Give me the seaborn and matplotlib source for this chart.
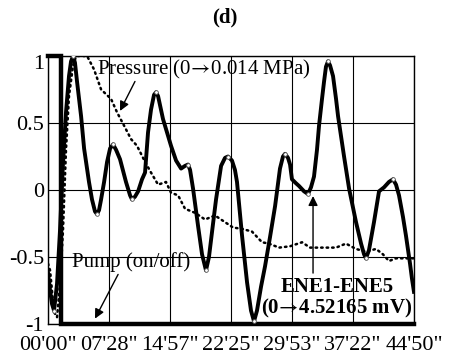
import matplotlib
matplotlib.use("Agg")
import matplotlib.pyplot as plt
import matplotlib.transforms as mtransforms
import pandas as pd
import seaborn as sns

# time in seconds, values normalised to -1..1
ene_t = [0, 15, 29, 44, 66, 88, 110, 132, 154, 169, 184, 198, 213, 243, 265, 301,
         323, 345, 360, 375, 390, 412, 434, 456, 478, 500, 529, 573, 603, 617, 639,
         662, 691, 713, 735, 757, 779, 794, 809, 845, 904, 941, 978, 1007, 1029,
         1044, 1066, 1103, 1132, 1161, 1183, 1213, 1235, 1272, 1301, 1323, 1352,
         1374, 1389, 1426, 1463, 1492, 1514, 1536, 1566, 1595, 1632, 1669, 1705,
         1727, 1742, 1764, 1779, 1793, 1823, 1845, 1882, 1911, 1933, 1955, 1977,
         1992, 2014, 2029, 2043, 2058, 2073, 2095, 2117, 2132, 2176, 2213, 2264,
         2301, 2323, 2337, 2359, 2396, 2433, 2470, 2506, 2536, 2558, 2580, 2609,
         2631, 2661, 2675, 2690]
ene_v = [-0.62, -0.75, -0.85, -0.9, -0.7, -0.3, 0.2, 0.58, 0.85, 0.96, 1.0, 0.95,
         0.81, 0.55, 0.31, 0.06, -0.07, -0.16, -0.18, -0.15, -0.07, 0.06, 0.21, 0.31,
         0.34, 0.3, 0.23, 0.06, -0.04, -0.07, -0.05, -0.01, 0.08, 0.13, 0.43, 0.6,
         0.71, 0.73, 0.7, 0.53, 0.33, 0.22, 0.16, 0.18, 0.19, 0.15, 0.01, -0.27,
         -0.48, -0.6, -0.5, -0.25, -0.07, 0.18, 0.24, 0.25, 0.22, 0.15, 0.06, -0.34,
         -0.69, -0.9, -0.98, -0.9, -0.72, -0.57, -0.35, -0.12, 0.16, 0.25, 0.27,
         0.24, 0.19, 0.08, 0.05, 0.03, -0.01, -0.03, 0.02, 0.1, 0.3, 0.48, 0.68,
         0.81, 0.92, 0.96, 0.93, 0.85, 0.68, 0.55, 0.25, 0.01, -0.24, -0.4, -0.48,
         -0.51, -0.45, -0.24, -0.01, 0.02, 0.06, 0.08, 0.04, -0.04, -0.2, -0.34,
         -0.55, -0.66, -0.76]
# small circles sit on the turning points
mark_t = [44, 184, 360, 478, 617, 794, 1029, 1161, 1323, 1514, 1742, 1911, 2058,
          2337, 2536]

press_t = [0, 15, 44, 66, 88, 110, 132, 154, 184, 206, 287, 338, 390, 463, 507,
           559, 610, 654, 713, 757, 809, 867, 904, 956, 1007, 1080, 1154, 1227,
           1301, 1360, 1426, 1499, 1573, 1624, 1698, 1779, 1867, 1926, 1992, 2051,
           2117, 2190, 2264, 2337, 2411, 2462, 2506, 2558, 2631, 2690]
press_v = [-0.55, -0.6, -0.91, -0.95, -0.7, -0.3, 0.3, 0.7, 0.93, 1.0, 1.0, 0.9,
           0.75, 0.68, 0.58, 0.48, 0.38, 0.33, 0.21, 0.13, 0.04, 0.06, -0.02, -0.04,
           -0.14, -0.17, -0.22, -0.19, -0.24, -0.28, -0.29, -0.31, -0.39, -0.4,
           -0.43, -0.42, -0.39, -0.43, -0.43, -0.43, -0.43, -0.4, -0.44, -0.46,
           -0.44, -0.48, -0.53, -0.51, -0.51, -0.51]

pump_t = [0, 92, 92, 2690]
pump_v = [1, 1, -1, -1]

tick_pos = [0, 448, 897, 1345, 1793, 2242, 2690]
tick_lab = ["00'00\"", "07'28\"", "14'57\"", "22'25\"", "29'53\"", "37'22\"", "44'50\""]

plt.rcParams["font.family"] = ["Liberation Serif", "DejaVu Serif"]
plt.rcParams["mathtext.fontset"] = "stix"

ene = pd.DataFrame({"t": ene_t, "v": ene_v})
marks = ene[ene["t"].isin(mark_t)]
press = pd.DataFrame({"t": press_t, "v": press_v})
pump = pd.DataFrame({"t": pump_t, "v": pump_v})

fig = plt.figure(figsize=(4.49, 3.59), dpi=100)
ax = fig.add_axes([0.107, 0.0975, 0.815, 0.7465])

sns.lineplot(data=press, x="t", y="v", ax=ax, estimator=None, sort=False,
             color="black", lw=1.8, linestyle=(0, (0.6, 1.6)), dash_capstyle="round")
sns.lineplot(data=ene, x="t", y="v", ax=ax, estimator=None, sort=False,
             color="black", lw=2.8, solid_joinstyle="round")
sns.scatterplot(data=marks, x="t", y="v", ax=ax, s=7,
                color="white", edgecolor="#555555", linewidth=0.6, zorder=4)
sns.lineplot(data=pump, x="t", y="v", ax=ax, estimator=None, sort=False,
             color="black", lw=3.2, clip_on=False, solid_joinstyle="miter")

ax.set_xlim(0, 2690)
ax.set_ylim(-1, 1)
ax.set_xticks(tick_pos)
ax.set_xticklabels(tick_lab)
ax.set_yticks([-1, -0.5, 0, 0.5, 1])
ax.set_yticklabels(["-1", "-0.5", "0", "0.5", "1"])
ax.tick_params(axis="x", length=0, labelsize=16, pad=9)
ax.tick_params(axis="y", length=0, labelsize=16, pad=3)
ax.set_xlabel("")
ax.set_ylabel("")
ax.grid(True, color="black", lw=0.8)
for s in ax.spines.values():
    s.set_color("black")
    s.set_linewidth(1.0)

# the top label sits a little lower than its tick in the original
shift = mtransforms.ScaledTranslation(0, -4 / 72, fig.dpi_scale_trans)
top_lab = ax.get_yticklabels()[-1]
top_lab.set_transform(top_lab.get_transform() + shift)

arrow = dict(arrowstyle="-|>", color="black", lw=1.0, mutation_scale=14,
             shrinkA=0, shrinkB=0)
ax.text(360, 0.90, "Pressure (0$\\!\\rightarrow\\!$0.014 MPa)", fontsize=15,
        va="center", ha="left")
ax.annotate("", xy=(529, 0.59), xytext=(639, 0.81), arrowprops=arrow)

ax.text(176, -0.54, "Pump (on/off)", fontsize=15, va="center", ha="left")
ax.annotate("", xy=(345, -0.96), xytext=(515, -0.63), arrowprops=arrow)

ax.text(2124, -0.81, "ENE1-ENE5\n(0$\\!\\rightarrow\\!$4.52165 mV)", fontsize=15,
        fontweight="bold", va="center", ha="center", linespacing=1.0)
ax.annotate("", xy=(1948, -0.045), xytext=(1948, -0.62), arrowprops=arrow)

fig.text(0.5, 1 - 17 / 359, "(d)", fontsize=15, fontweight="bold",
         ha="center", va="center")

fig.savefig("out.png", dpi=100)
